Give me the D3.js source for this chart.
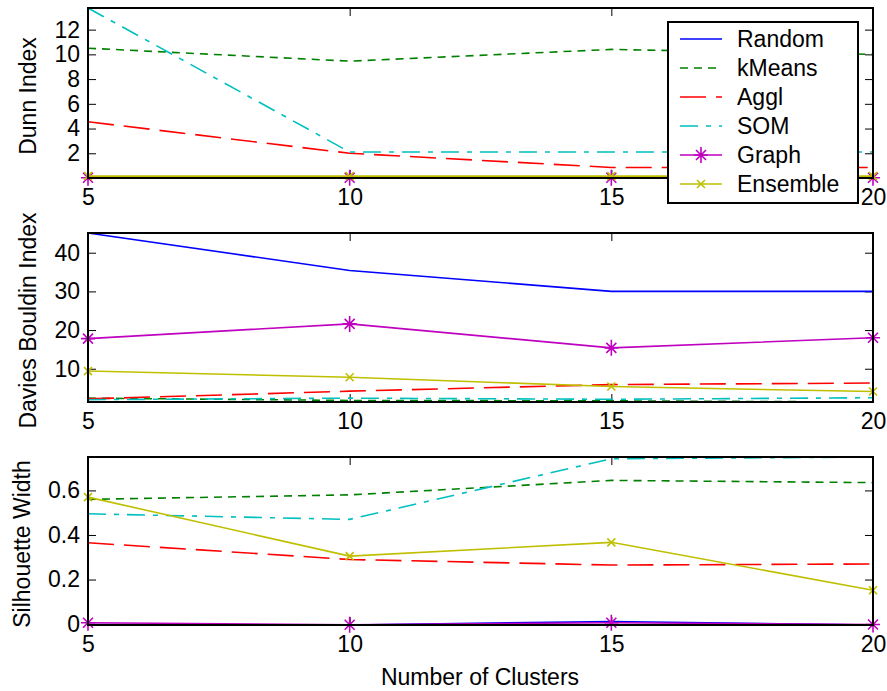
<!DOCTYPE html>
<html>
<head>
<meta charset="utf-8">
<script src="https://cdn.jsdelivr.net/npm/d3@7"></script>
<style>
  body { margin: 0; background: #fff; }
  svg { font-family: "Liberation Sans", Arial, sans-serif; }
</style>
</head>
<body>
<div id="chart"></div>
<script>
// x values and series names
const clusters = [5, 10, 15, 20];
const methodNames = ["Random", "kMeans", "Aggl", "SOM", "Graph", "Ensemble"];

// one row per method, in methodNames order
const dunnIndex = [
    [0, 0, 0, 0],
    [10.5, 9.45, 10.4, 10.0],
    [4.55, 2.0, 0.85, 0.85],
    [13.75, 2.1, 2.1, 2.1],
    [0.02, 0.02, 0.02, 0.02],
    [0.15, 0.15, 0.15, 0.15]
];
const daviesBouldin = [
    [45.1, 35.4, 30.0, 30.0],
    [2.4, 1.8, 1.7, 1.4],
    [2.2, 4.2, 5.9, 6.3],
    [2.0, 2.4, 2.1, 2.5],
    [17.8, 21.6, 15.4, 18.0],
    [9.4, 7.8, 5.4, 4.1]
];
const silhouette = [
    [-0.002, -0.004, 0.012, -0.004],
    [0.56, 0.58, 0.645, 0.635],
    [0.365, 0.29, 0.265, 0.27],
    [0.495, 0.47, 0.742, 0.75],
    [0.006, -0.003, 0.006, -0.002],
    [0.57, 0.305, 0.367, 0.152]
];

const dunnTicks = [2, 4, 6, 8, 10, 12];
const dbTicks = [10, 20, 30, 40];
const silTicks = [0, 0.2, 0.4, 0.6];
const xTicks = [5, 10, 15, 20];

// styles
const colors = ["#0000ff", "#008000", "#ff0000", "#00bfbf", "#bf00bf", "#bfbf00"];
const dashes = [null, "8,6", "26,10", "18,8,5,8", null, null];
const markers = [null, null, null, null, "star", "x"];

const W = 887, H = 691;
const svg = d3.select("#chart").append("svg")
    .attr("width", W)
    .attr("height", H);

const xScale = d3.scaleLinear().domain([5, 20]).range([88, 873]);

const panels = [
    {data: dunnIndex, ticks: dunnTicks, label: "Dunn Index", top: 8, bottom: 178, labelX: 36},
    {data: daviesBouldin, ticks: dbTicks, label: "Davies Bouldin Index", top: 233, bottom: 402, labelX: 36},
    {data: silhouette, ticks: silTicks, label: "Silhouette Width", top: 457, bottom: 625, labelX: 30}
];

function markerPath(type) {
    if (type === "star") return "M-7,0H7M0,-8V8M-5,-5L5,5M-5,5L5,-5";
    return "M-4,-4L4,4M-4,4L4,-4";
}

function styleAxis(g) {
    g.select(".domain").remove();
    g.selectAll(".tick line").attr("stroke", "#000");
    g.selectAll(".tick text").attr("fill", "#000").style("font-size", "23px");
}

panels.forEach(p => {
    const all = p.data.flat();
    const yScale = d3.scaleLinear()
        .domain(d3.extent(all))
        .range([p.bottom, p.top]);

    // axes with inward ticks, mirrored on top and right
    svg.append("g")
        .attr("transform", `translate(88,0)`)
        .call(d3.axisLeft(yScale).tickValues(p.ticks).tickSize(-8).tickPadding(8)
            .tickFormat(d3.format("")))
        .call(styleAxis);
    svg.append("g")
        .attr("transform", `translate(873,0)`)
        .call(d3.axisRight(yScale).tickValues(p.ticks).tickSize(-8).tickFormat(""))
        .call(styleAxis);
    svg.append("g")
        .attr("transform", `translate(0,${p.bottom})`)
        .call(d3.axisBottom(xScale).tickValues(xTicks).tickSize(-8).tickPadding(11))
        .call(styleAxis);
    svg.append("g")
        .attr("transform", `translate(0,${p.top})`)
        .call(d3.axisTop(xScale).tickValues(xTicks).tickSize(-8).tickFormat(""))
        .call(styleAxis);

    const line = d3.line()
        .x((d, i) => xScale(clusters[i]))
        .y(d => yScale(d));

    p.data.forEach((vals, k) => {
        svg.append("path")
            .datum(vals)
            .attr("d", line)
            .attr("fill", "none")
            .attr("stroke", colors[k])
            .attr("stroke-width", 1.6)
            .attr("stroke-dasharray", dashes[k]);
        if (markers[k]) {
            svg.append("g").selectAll("path")
                .data(vals)
                .join("path")
                .attr("transform", (d, i) => `translate(${xScale(clusters[i])},${yScale(d)})`)
                .attr("d", markerPath(markers[k]))
                .attr("stroke", colors[k])
                .attr("stroke-width", 1.6)
                .attr("fill", "none");
        }
    });

    // axes box
    svg.append("rect")
        .attr("x", 88).attr("y", p.top)
        .attr("width", 873 - 88).attr("height", p.bottom - p.top)
        .attr("fill", "none")
        .attr("stroke", "#000")
        .attr("stroke-width", 2);

    svg.append("text")
        .attr("transform", `translate(${p.labelX},${(p.top + p.bottom) / 2 + 3}) rotate(-90)`)
        .attr("text-anchor", "middle")
        .style("font-size", "23px")
        .text(p.label);
});

svg.append("text")
    .attr("x", 480)
    .attr("y", 685)
    .attr("text-anchor", "middle")
    .style("font-size", "23px")
    .text("Number of Clusters");

// legend
const legend = svg.append("g");
legend.append("rect")
    .attr("x", 668).attr("y", 22)
    .attr("width", 190).attr("height", 181)
    .attr("fill", "#fff")
    .attr("stroke", "#000")
    .attr("stroke-width", 2);

methodNames.forEach((name, k) => {
    const ly = 39 + k * 29;
    legend.append("line")
        .attr("x1", 680).attr("x2", 722)
        .attr("y1", ly).attr("y2", ly)
        .attr("stroke", colors[k])
        .attr("stroke-width", 1.6)
        .attr("stroke-dasharray", dashes[k]);
    if (markers[k]) {
        legend.append("path")
            .attr("transform", `translate(701,${ly})`)
            .attr("d", markerPath(markers[k]))
            .attr("stroke", colors[k])
            .attr("stroke-width", 1.6)
            .attr("fill", "none");
    }
    legend.append("text")
        .attr("x", 737)
        .attr("y", ly)
        .attr("dy", "0.35em")
        .style("font-size", "23px")
        .text(name);
});
</script>
</body>
</html>
